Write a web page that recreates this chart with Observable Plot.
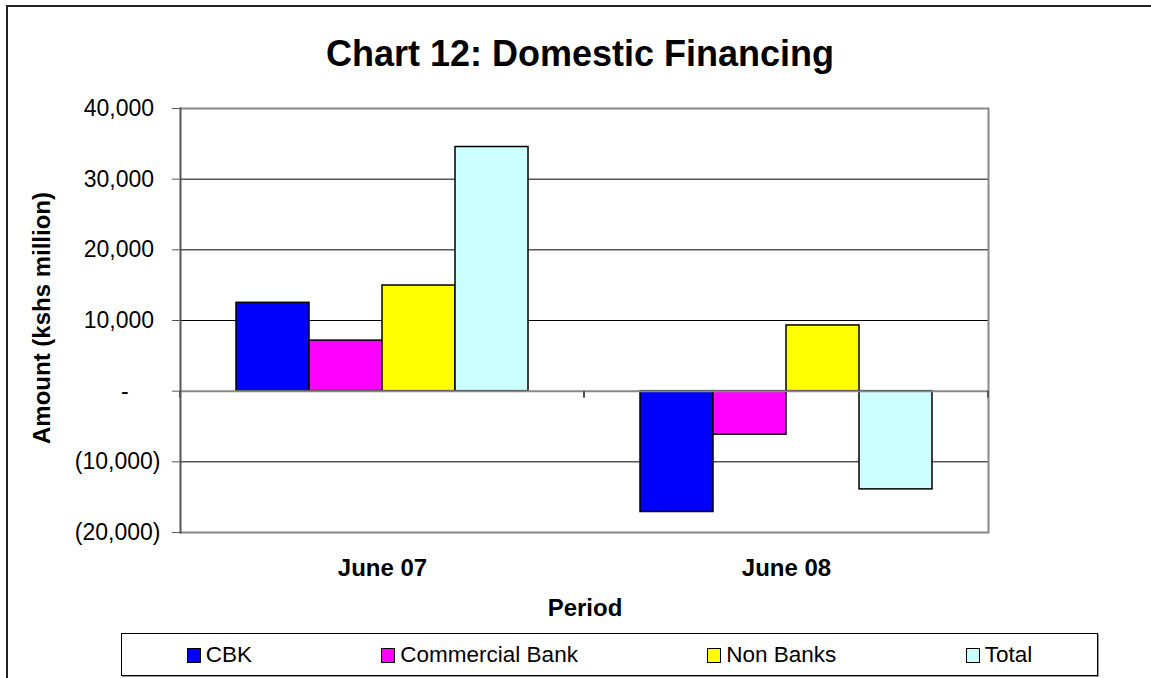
<!DOCTYPE html>
<html>
<head>
<meta charset="utf-8">
<script src="https://cdn.jsdelivr.net/npm/d3@7"></script>
<script src="https://cdn.jsdelivr.net/npm/@observablehq/plot@0.6"></script>
<style>
  html, body { margin: 0; padding: 0; background: #fff; }
  body { font-family: Arial, "Liberation Sans", sans-serif; }
  #wrap { position: relative; width: 1151px; height: 678px; overflow: hidden; background: #fff; }
  #chart { position: absolute; left: 0; top: 0; }
  .abs { position: absolute; }
  #outer { left: 6px; top: 5px; width: 3000px; height: 3000px; border-left: 2px solid #222; border-top: 2px solid #222; }
  #title { left: 0; width: 1160px; top: 36px; text-align: center; font-size: 36px; font-weight: bold; line-height: 36px; color: #000; }
  #ylabel { left: 42px; top: 318px; transform: translate(-50%, -50%) rotate(-90deg); font-size: 24px; font-weight: bold; white-space: nowrap; line-height: 24px; }
  #xlabel { left: 585px; top: 608px; transform: translate(-50%, -50%); font-size: 24px; font-weight: bold; line-height: 24px; }
  #legend { left: 121px; top: 633px; width: 975px; height: 41px; border: 1px solid #000; box-shadow: 1px 1px 0 #999;
            display: flex; justify-content: space-around; align-items: center; font-size: 22.5px; }
  .item { display: flex; align-items: center; white-space: nowrap; }
  .sw { width: 12px; height: 13px; border: 1.5px solid #000; margin-right: 5px; margin-top: 2px; }
</style>
</head>
<body>
<div id="wrap">
  <div id="chart"></div>
  <div id="outer" class="abs"></div>
  <div id="title" class="abs">Chart 12: Domestic Financing</div>
  <div id="ylabel" class="abs">Amount (kshs million)</div>
  <div id="xlabel" class="abs">Period</div>
  <div id="legend" class="abs"></div>
</div>
<script>
const periods = ["June 07", "June 08"];
const series = ["CBK", "Commercial Bank", "Non Banks", "Total"];
const cbk = [12500, -17100];
const commercialBank = [7150, -6150];
const nonBanks = [14950, 9300];
const total = [34550, -13900];
const colors = ["#0000FF", "#FF00FF", "#FFFF00", "#CCFFFF"];
const yTicks = [-20000, -10000, 0, 10000, 20000, 30000, 40000];
const xTitle = "Period";

const seriesValues = [cbk, commercialBank, nonBanks, total];
const data = periods.flatMap((p, i) => series.map((s, j) => ({period: p, series: s, value: seriesValues[j][i]})));

const NB = "\u00A0";
const fmt = (v) => {
  if (v === 0) return "-" + NB.repeat(5);
  const s = d3.format(",")(Math.abs(v));
  return v < 0 ? "(" + s + ")" : s + NB;
};

const chart = Plot.plot({
  width: 1151,
  height: 678,
  marginTop: 108,
  marginBottom: 146,
  marginLeft: 180,
  marginRight: 163,
  style: {fontFamily: "Arial, 'Liberation Sans', sans-serif", background: "transparent", color: "#000"},
  fx: {domain: periods, padding: 0, label: null, axis: null},
  x: {domain: series, paddingInner: 0, paddingOuter: 0.75, axis: null},
  y: {domain: [-20000, 40000], axis: null},
  color: {domain: series, range: colors},
  marks: [
    Plot.ruleY(yTicks.filter(t => t !== 0 && t !== 40000 && t !== -20000), {stroke: "#000", strokeWidth: 1}),
    Plot.ruleY([40000, -20000], {stroke: "#888", strokeWidth: 2}),
    Plot.frame({anchor: "right", facetAnchor: "right", stroke: "#888", strokeWidth: 2}),
    Plot.barY(data, {fx: "period", x: "series", y: "value", fill: "series", stroke: "#000", strokeWidth: 1.5}),
    Plot.ruleY([0], {stroke: "#888", strokeWidth: 2}),
    Plot.frame({anchor: "left", facetAnchor: "left", stroke: "#555", strokeWidth: 2}),
    Plot.axisY({ticks: yTicks, tickFormat: fmt, tickSize: 8, tickPadding: 12, fontSize: 23, stroke: "#555", label: null}),
    Plot.axisFx({anchor: "bottom", tickSize: 0, tickPadding: 26, fontSize: 24, fontWeight: "bold", label: null})
  ]
});
document.getElementById("chart").appendChild(chart);

// category-axis tick marks below the zero line at facet boundaries
try {
  const fxs = chart.scale("fx");
  const ys = chart.scale("y");
  const y0 = ys.apply(0);
  const [a, b] = fxs.range;
  const xs = [a, (a + b) / 2, b];
  d3.select(chart).append("g").selectAll("line").data(xs).join("line")
    .attr("x1", d => d).attr("x2", d => d)
    .attr("y1", y0).attr("y2", y0 + 7)
    .attr("stroke", "#555").attr("stroke-width", 2);
} catch (e) {}

const legend = d3.select("#legend");
series.forEach((s, i) => {
  const it = legend.append("div").attr("class", "item");
  it.append("div").attr("class", "sw").style("background", colors[i]);
  it.append("span").text(s);
});
document.getElementById("xlabel").textContent = xTitle;
</script>
</body>
</html>
